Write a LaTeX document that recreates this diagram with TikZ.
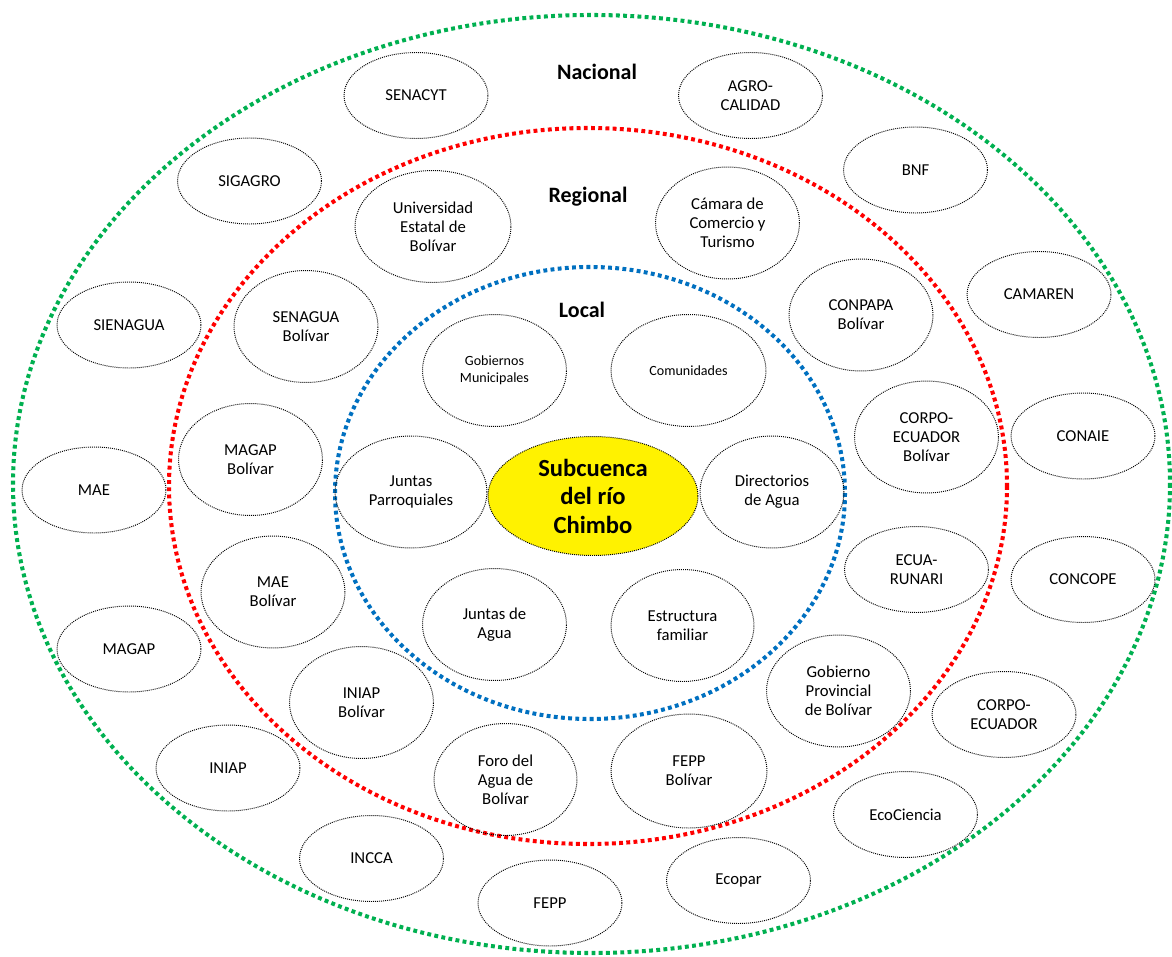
\documentclass[tikz,border=0pt]{standalone}
\usepackage{fontspec}
\setmainfont{Carlito}
\usetikzlibrary{shapes.geometric}
\definecolor{ringgreen}{RGB}{0,176,80}
\definecolor{ringred}{RGB}{255,0,0}
\definecolor{ringblue}{RGB}{0,112,192}

\begin{document}
\begin{tikzpicture}[x=0.02cm,y=-0.02cm,
    actor/.style={ellipse,draw,line width=0.55pt,dash pattern=on 0.55pt off 0.6pt,inner sep=0pt,align=center,
      minimum width=2.88cm,minimum height=1.72cm,font=\fontsize{9.5}{10.8}\selectfont},
    big/.style={actor,minimum height=2.24cm},
    tiny/.style={font=\fontsize{8}{9.6}\selectfont},
    ring/.style={line width=2.3pt,dash pattern=on 2.2pt off 1.9pt},
    level/.style={font=\bfseries\fontsize{12.5}{14}\selectfont}]
    \useasboundingbox (0,0) rectangle (1172,956);
    \draw[ring,ringgreen] (591.5,484) ellipse [x radius=578.5, y radius=469];
    \draw[ring,ringred] (588,486) ellipse [x radius=419, y radius=358];
    \draw[ring,ringblue] (590,493) ellipse [x radius=255, y radius=226];
    \node[level] (nacional) at (597,72) {Nacional};
    \node[level] (regional) at (588,197) {Regional};
    \node[level] (local) at (582,310) {Local};
    \node[actor,fill=yellow,minimum width=4.2cm,minimum height=2.38cm,font=\bfseries\fontsize{14}{16.2}\selectfont]
      (chimbo) at (593,496) {Subcuenca\\del río\\Chimbo};
    \node[big,tiny] (gobmun) at (494.5,370.5) {Gobiernos\\Municipales};
    \node[big,tiny,minimum width=3.1cm] (comunidades) at (688.5,370.5) {Comunidades};
    \node[big,minimum width=3.04cm] (jparroq) at (411,492) {Juntas\\Parroquiales};
    \node[big] (directorios) at (772,492) {Directorios\\de Agua};
    \node[big] (jagua) at (494.5,624.5) {Juntas de\\Agua};
    \node[big,minimum width=2.86cm] (familia) at (682.5,625.5) {Estructura\\familiar};
    \node[big,minimum width=3.12cm] (ueb) at (433,226.5) {Universidad\\Estatal de\\Bolívar};
    \node[big] (camara) at (727.5,223) {Cámara de\\Comercio y\\Turismo};
    \node[big] (senaguab) at (306,326.5) {SENAGUA\\Bolívar};
    \node[big] (conpapa) at (861,315) {CONPAPA\\Bolívar};
    \node[big] (magapb) at (250.5,459.5) {MAGAP\\Bolívar};
    \node[big] (corpob) at (926.5,437) {CORPO-\\ECUADOR\\Bolívar};
    \node[big] (maeb) at (273,592) {MAE\\Bolívar};
    \node[actor] (ecuarunari) at (916.5,569.5) {ECUA-\\RUNARI};
    \node[big] (iniapb) at (361.5,702.5) {INIAP\\Bolívar};
    \node[big] (gobprov) at (838.5,691) {Gobierno\\Provincial\\de Bolívar};
    \node[big,minimum width=2.86cm] (foro) at (505.5,779.5) {Foro del\\Agua de\\Bolívar};
    \node[big,minimum width=3.12cm,minimum height=2.28cm] (feppb) at (689,771) {FEPP\\Bolívar};
    \node[actor] (senacyt) at (416,95.5) {SENACYT};
    \node[actor] (agrocalidad) at (750.5,95.5) {AGRO-\\CALIDAD};
    \node[actor] (sigagro) at (249.5,181) {SIGAGRO};
    \node[actor] (bnf) at (915.5,170) {BNF};
    \node[actor] (sienagua) at (129,325) {SIENAGUA};
    \node[actor] (camaren) at (1039,294.5) {CAMAREN};
    \node[actor] (mae) at (94,490) {MAE};
    \node[actor] (conaie) at (1083,436) {CONAIE};
    \node[actor] (magap) at (129,649) {MAGAP};
    \node[actor] (concope) at (1083,579.5) {CONCOPE};
    \node[actor] (iniap) at (228,768) {INIAP};
    \node[actor] (corpo) at (1004,714.5) {CORPO-\\ECUADOR};
    \node[actor] (incca) at (371.5,858.5) {INCCA};
    \node[actor] (ecociencia) at (905.5,814.5) {EcoCiencia};
    \node[actor] (fepp) at (550,903) {FEPP};
    \node[actor] (ecopar) at (738.5,880.5) {Ecopar};
\end{tikzpicture}
\end{document}
